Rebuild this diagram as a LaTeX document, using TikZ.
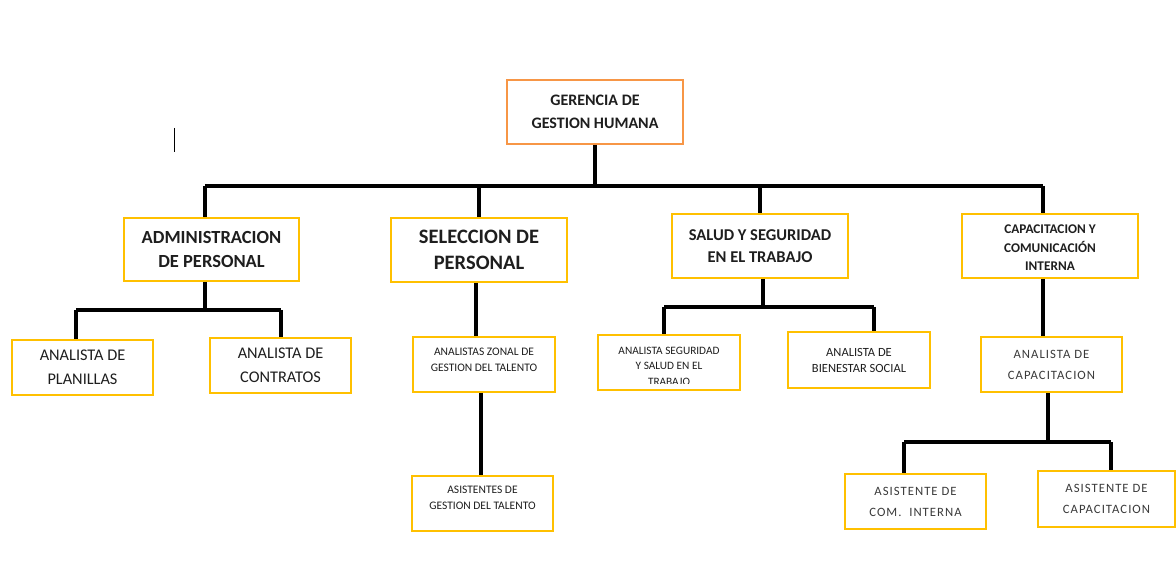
\documentclass[tikz,border=0pt]{standalone}
\usepackage{fontspec}
\setmainfont{Carlito}
\newfontfamily\spacedfont[LetterSpace=8]{Carlito}
\definecolor{boxyellow}{HTML}{FFC000}
\definecolor{boxorange}{HTML}{F79646}
\definecolor{txt}{HTML}{1E1E1E}
\definecolor{txtgray}{HTML}{3A3A3A}
\begin{document}
\begin{tikzpicture}[x=1pt,y=-1pt,
  box/.style={draw=boxyellow, line width=1.6pt, rectangle, inner sep=0pt, align=center, text=txt},
  txtnode/.style={inner sep=0pt, align=center, text=txt},
  conn/.style={line width=3.4pt, draw=black}]
\fill[white] (0,0) rectangle (1176,577);
\useasboundingbox (0,0) rectangle (1176,577);

% top
\node[box, draw=boxorange, minimum width=176pt, minimum height=64pt, font=\bfseries\fontsize{16}{23}\selectfont] (ger) at (595,112) {GERENCIA DE\\GESTION HUMANA};

% level 1
\node[box, minimum width=175pt, minimum height=63pt, font=\bfseries\fontsize{18.5}{24}\selectfont] (adm) at (211.5,249.5) {ADMINISTRACION\\DE PERSONAL};
\node[box, minimum width=176pt, minimum height=64pt, font=\bfseries\fontsize{20.5}{26}\selectfont] (sel) at (479,250) {SELECCION DE\\PERSONAL};
\node[box, minimum width=176pt, minimum height=64pt, font=\bfseries\fontsize{16.5}{22}\selectfont] (sal) at (760,246) {SALUD Y SEGURIDAD\\EN EL TRABAJO};
\node[box, minimum width=176pt, minimum height=64pt] (cap) at (1050,246) {};
\begin{scope}
  \clip (962,214) rectangle (1138,271);
  \node[txtnode, font=\bfseries\fontsize{13.3}{18.5}\selectfont] (captext) at (1050,248) {CAPACITACION Y\\COMUNICACIÓN\\INTERNA};
\end{scope}

% level 2
\node[box, minimum width=141pt, minimum height=55pt, font=\fontsize{16.3}{24}\selectfont] (pla) at (82.5,367.5) {ANALISTA DE\\PLANILLAS};
\node[box, minimum width=141pt, minimum height=55pt, font=\fontsize{16.3}{24}\selectfont] (con) at (280.5,365.5) {ANALISTA DE\\CONTRATOS};
\node[box, minimum width=142pt, minimum height=55pt] (zon) at (484,364.5) {};
\node[txtnode, font=\fontsize{11.5}{16}\selectfont] (zontext) at (484,359.5) {ANALISTAS ZONAL DE\\GESTION DEL TALENTO};
\node[box, minimum width=142pt, minimum height=55pt] (seg) at (669,362.5) {};
\begin{scope}
  \clip (598,335) rectangle (740,384);
  \node[txtnode, font=\fontsize{11.3}{15.5}\selectfont] (segtext) at (669,366) {ANALISTA SEGURIDAD\\Y SALUD EN EL\\TRABAJO};
\end{scope}
\node[box, minimum width=142pt, minimum height=56pt, font=\fontsize{12.5}{16}\selectfont] (bie) at (859,360) {ANALISTA DE\\BIENESTAR SOCIAL};
\node[box, minimum width=141pt, minimum height=55pt, text=txtgray, font=\spacedfont\fontsize{12.7}{21}\selectfont] (anc) at (1051.5,364.5) {ANALISTA DE\\CAPACITACION};

% level 3
\node[box, minimum width=141pt, minimum height=55pt] (asi) at (482.5,503.5) {};
\node[txtnode, font=\fontsize{11.5}{16}\selectfont] (asitext) at (482.5,497.5) {ASISTENTES DE\\GESTION DEL TALENTO};
\node[box, minimum width=141pt, minimum height=55pt, text=txtgray, font=\spacedfont\fontsize{12.7}{21}\selectfont] (acom) at (915.5,501.5) {ASISTENTE DE\\COM.\ \ INTERNA};
\node[box, minimum width=137pt, minimum height=56pt, text=txtgray, font=\spacedfont\fontsize{12.7}{21}\selectfont] (acap) at (1106.5,499) {ASISTENTE DE\\CAPACITACION};

% connectors: top bus
\coordinate (busL) at (205,186);
\coordinate (busR) at (1043,186);
\draw[conn] (ger.south) -- (ger.south |- busL);
\draw[conn] (busL) -- (busR);
\draw[conn] (busL) -- (busL |- adm.north);
\draw[conn] (sel.north |- busL) -- (sel.north);
\draw[conn] (sal.north |- busL) -- (sal.north);
\draw[conn] (busR) -- (busR |- cap.north);

% administracion
\coordinate (ab) at (205,310);
\coordinate (abL) at (76,310);
\coordinate (abR) at (281,310);
\draw[conn] (ab |- adm.south) -- (ab);
\draw[conn] (abL) -- (abR);
\draw[conn] (abL) -- (abL |- pla.north);
\draw[conn] (abR) -- (abR |- con.north);

% seleccion
\draw[conn] ([xshift=-3pt]sel.south) -- ([xshift=-8pt]zon.north);
\draw[conn] ([xshift=-3pt]zon.south) -- ([xshift=-1.5pt]asi.north);

% salud
\coordinate (sb) at (763,307);
\coordinate (sbL) at (664,307);
\coordinate (sbR) at (874,307);
\draw[conn] (sb |- sal.south) -- (sb);
\draw[conn] (sbL) -- (sbR);
\draw[conn] (sbL) -- (sbL |- seg.north);
\draw[conn] (sbR) -- (sbR |- bie.north);

% capacitacion
\draw[conn] (busR |- cap.south) -- (busR |- anc.north);
\coordinate (cb) at (1048,442);
\coordinate (cbL) at (904,442);
\coordinate (cbR) at (1111,442);
\draw[conn] (cb |- anc.south) -- (cb);
\draw[conn] (cbL) -- (cbR);
\draw[conn] (cbL) -- (cbL |- acom.north);
\draw[conn] (cbR) -- (cbR |- acap.north);

% stray cursor mark
\coordinate (cur) at (174,128);
\draw[line width=1pt] (cur) -- ++(0,24);
\end{tikzpicture}
\end{document}
